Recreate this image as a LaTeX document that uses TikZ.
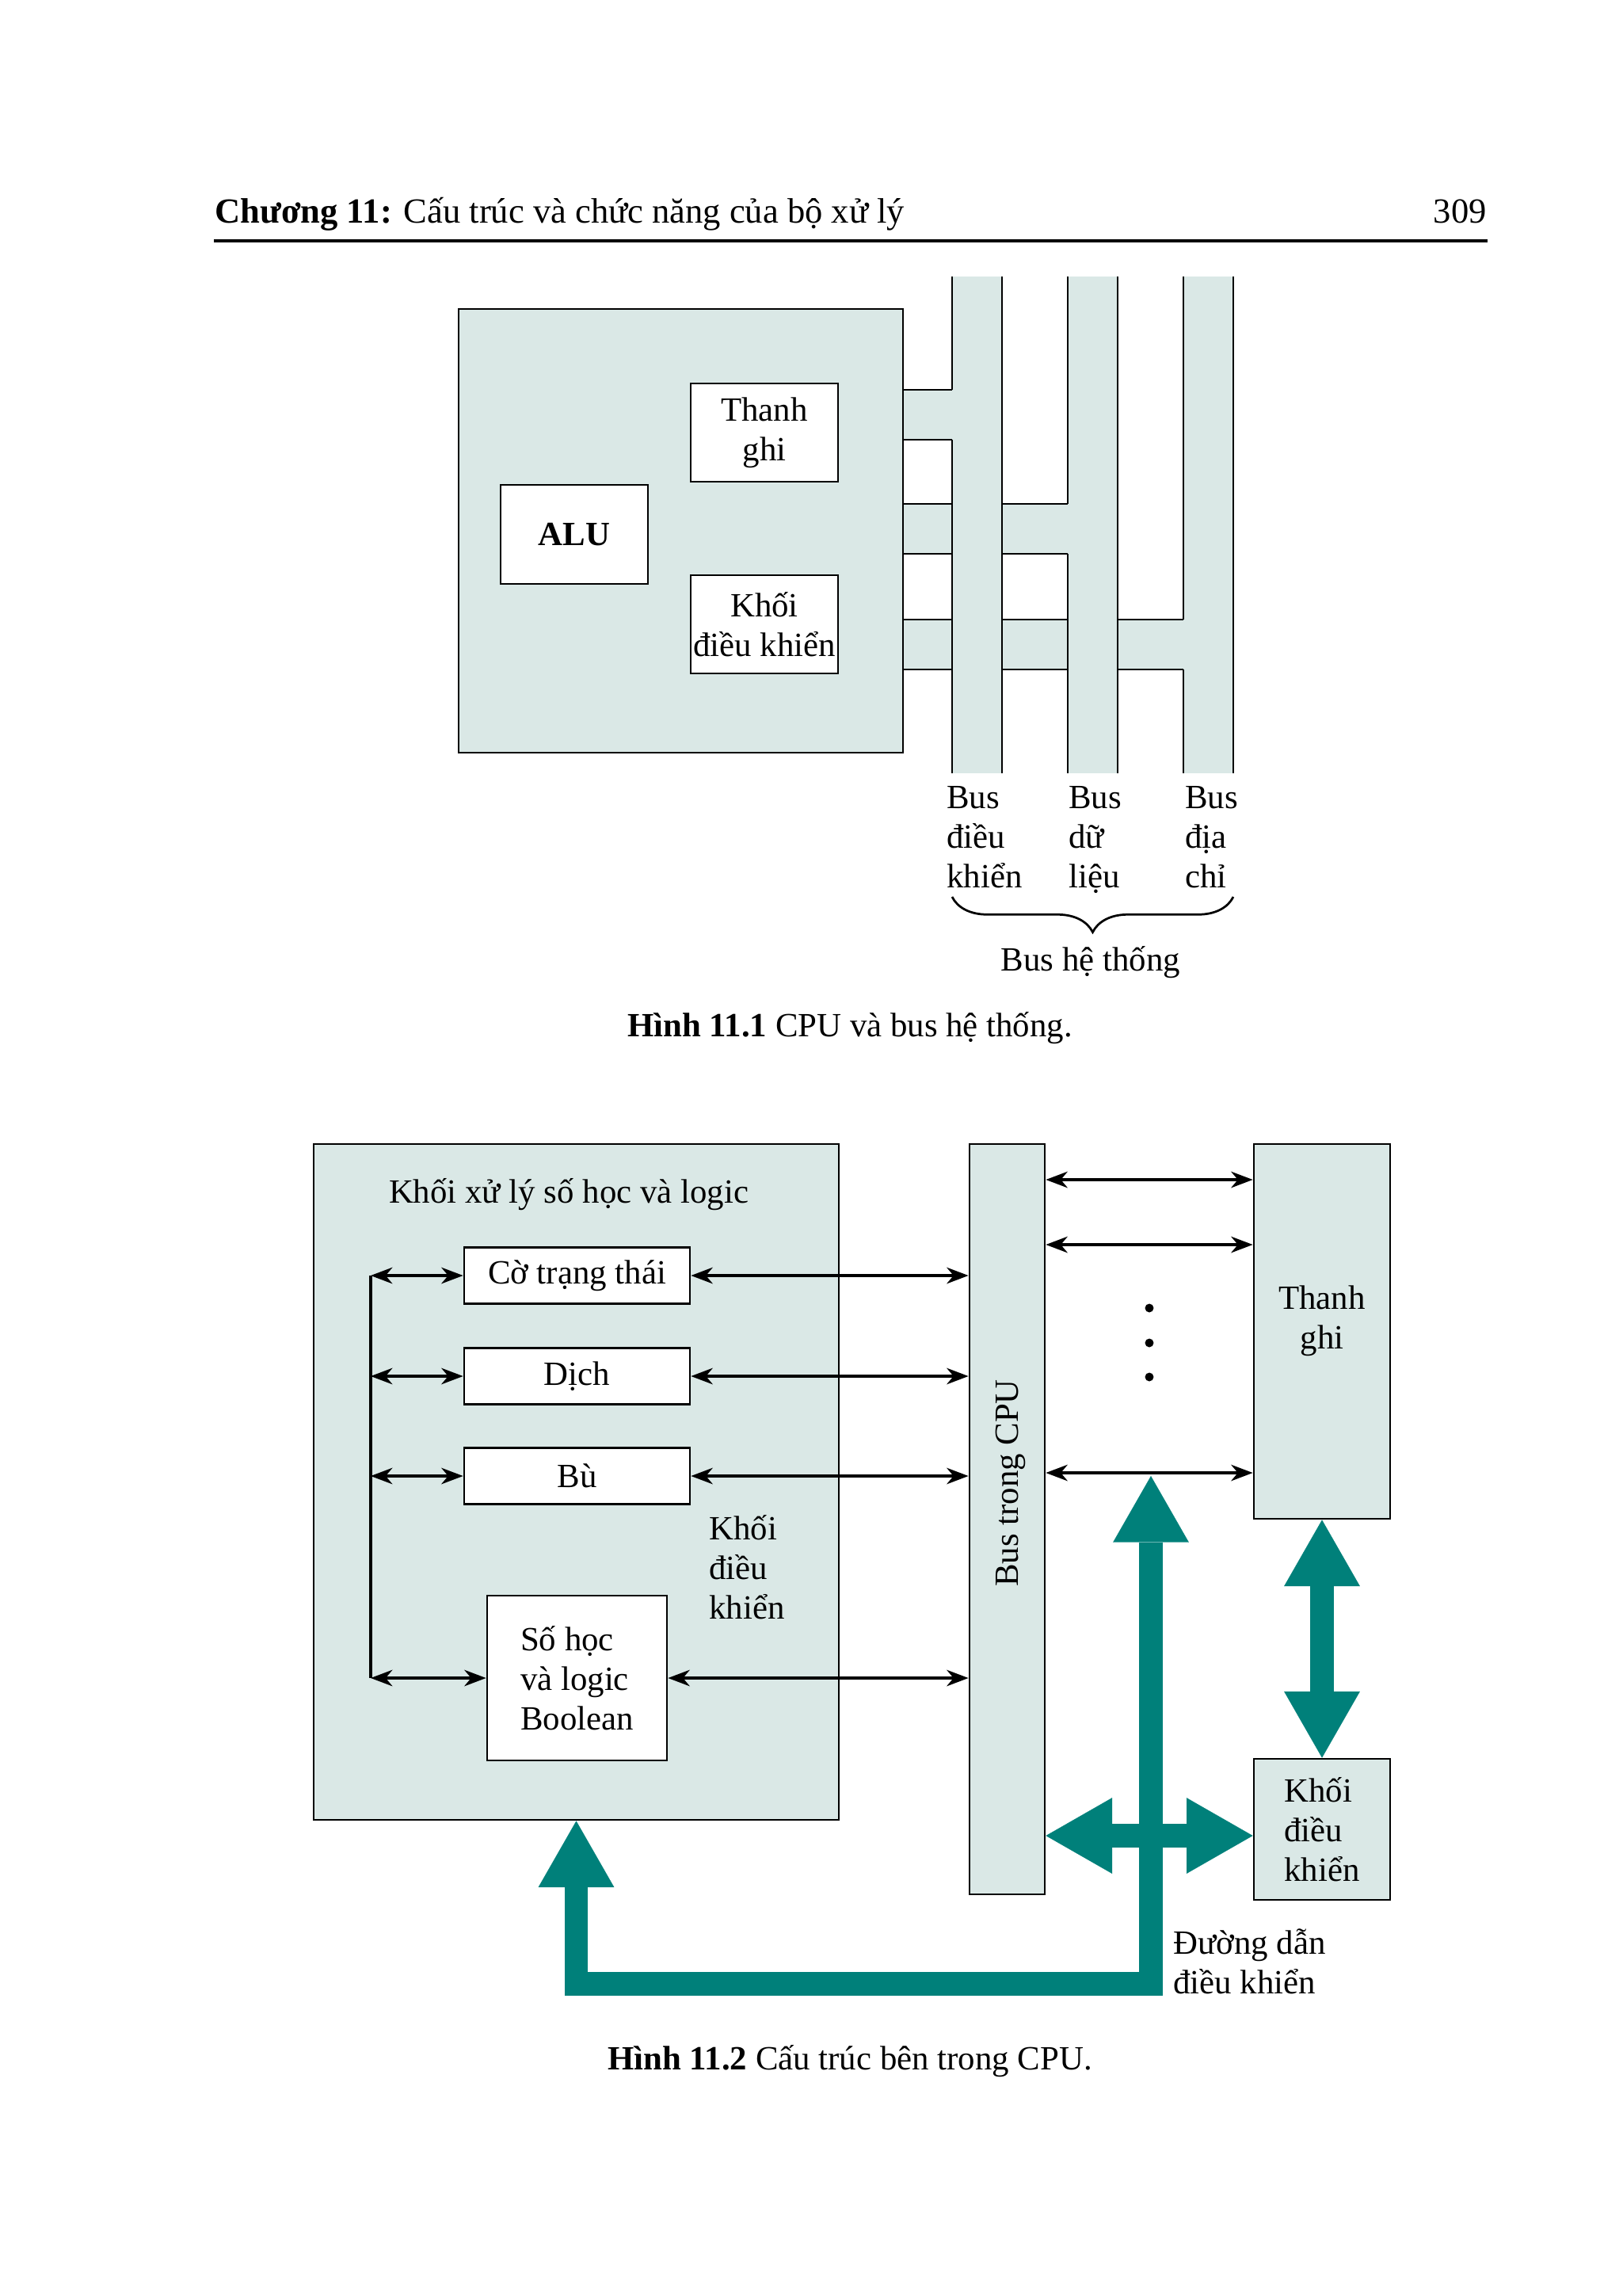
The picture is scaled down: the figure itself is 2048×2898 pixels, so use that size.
\documentclass[tikz,border=0pt]{standalone}
\usepackage{fontspec}
\setmainfont{Liberation Serif}
\usetikzlibrary{arrows.meta,decorations.pathreplacing}

\definecolor{nenxam}{RGB}{218,232,230}
\definecolor{xanhteal}{RGB}{0,128,122}
\newdimen\donvi
\donvi=0.010254cm

\begin{document}
\begin{tikzpicture}[x=0.010254cm, y=-0.010254cm, line width=0.8pt,
    chu/.style={font=\fontsize{12.5}{14.5}\selectfont, inner sep=0pt},
    hop/.style n args={2}{draw, chu, minimum width=#1*\donvi, minimum height=#2*\donvi},
    mui/.style={line width=0.9pt, <->, >={Stealth[length=8pt,width=6pt,inset=2.5pt]}},
    muidam/.style={draw=xanhteal, line width=8.7pt, line join=miter, <->,
        >={Triangle[length=24.4pt,width=27.9pt,line width=0.1pt]}}]
    \useasboundingbox (0,0) rectangle (2048,2898);

    % Đầu trang
    \node[chu, font=\fontsize{13}{15}\selectfont, anchor=base west] (tieude) at (270,281)
        {\textbf{Chương 11:} Cấu trúc và chức năng của bộ xử lý};
    \node[chu, font=\fontsize{13}{15}\selectfont, anchor=base east] (sotrang) at (1878,281) {309};
    \draw[line width=1.2pt] (270,304) -- (1878,304);

    % Hình 11.1: các nhánh nối CPU với bus
    \foreach \x/\y in {1202/492, 1348/636, 1494/782} {
        \fill[nenxam] (1140,\y) rectangle (\x,\y+63);
        \draw (1140,\y) -- (\x,\y) (1140,\y+63) -- (\x,\y+63);
    }
    % Ba đường bus
    \foreach \x/\y in {1202/492, 1348/636, 1494/782} {
        \fill[nenxam] (\x,349) rectangle (\x+63,976);
        \draw (\x,349) -- (\x,\y) (\x,\y+63) -- (\x,976) (\x+63,349) -- (\x+63,976);
    }

    % Khối CPU
    \node[hop={561}{560}, fill=nenxam] (cpu) at (859.5,670) {};
    \node[hop={186}{125}, fill=white] (alu) at (725,674.5) {\textbf{ALU}};
    \node[hop={186}{124}, fill=white, align=center] (thanhghi) at (965,546) {Thanh\\ghi};
    \node[hop={186}{124}, fill=white, align=center] (khoidk) at (965,788) {Khối\\điều khiển};

    % Nhãn bus
    \node[chu, anchor=base west, align=left] (busdk) at (1194,1120) {Bus\\điều\\khiển};
    \node[chu, anchor=base west, align=left] (busdl) at (1348,1120) {Bus\\dữ\\liệu};
    \node[chu, anchor=base west, align=left] (busdc) at (1495,1120) {Bus\\địa\\chỉ};
    \draw[decorate, decoration={brace, mirror, amplitude=13pt}] (1202,1132) -- (1557,1132);
    \node[chu, anchor=base] (busht) at (1377,1225) {Bus hệ thống};
    \node[chu, anchor=base] (hinh1) at (1073,1308) {\textbf{Hình 11.1} CPU và bus hệ thống.};

    % Hình 11.2: khối xử lý số học và logic
    \node[hop={663}{853}, fill=nenxam] (alu2) at (727.5,1870.5) {};
    \node[chu, anchor=base] (tenalu) at (718,1518) {Khối xử lý số học và logic};
    \node[hop={285}{71}, fill=white] (co) at (728.5,1610) {Cờ trạng thái};
    \node[hop={285}{71}, fill=white] (dich) at (728.5,1737) {Dịch};
    \node[hop={285}{71}, fill=white] (bu) at (728.5,1863) {Bù};
    \node[hop={227}{208}, fill=white, align=left] (boolean) at (728.5,2118) {Số học\\và logic\\Boolean};
    \node[chu, anchor=base west, align=left] (khoidk2) at (894,2043) {Khối\\điều\\khiển};

    % Bus trong CPU, thanh ghi, khối điều khiển
    \node[hop={95}{947}, fill=nenxam] (buscpu) at (1271.5,1917.5) {};
    \node[chu, rotate=90] (tenbus) at (1276,1872) {Bus trong CPU};
    \node[hop={172}{473}, fill=nenxam] (thanhghi2) at (1669,1680.5) {};
    \node[chu, anchor=base, align=center] (tenthanhghi) at (1669,1702) {Thanh\\ghi};
    \node[hop={172}{178}, fill=nenxam, align=left] (khoidk3) at (1669,2309) {Khối\\điều\\khiển};
    \node[chu, anchor=base west, align=left] (duongdan) at (1480,2516) {Đường dẫn\\điều khiển};

    % Mũi tên mảnh
    \coordinate (trai) at (468,0);
    \draw[line width=0.9pt] (trai |- co.west) -- (trai |- boolean.west);
    \foreach \n in {co,dich,bu,boolean} {
        \draw[mui] (trai |- \n.west) -- (\n.west);
        \draw[mui] (\n.east) -- (buscpu.west |- \n.east);
    }
    \foreach \y in {1489,1571,1859}
        \draw[mui] (buscpu.east |- 0,\y) -- (thanhghi2.west |- 0,\y);
    \foreach \y in {1651,1695,1738}
        \fill (1451,\y) circle[radius=1.6pt];

    % Mũi tên đậm
    \coordinate (dinh) at (1453,1863);
    \coordinate (goc) at (1453,2504);
    \draw[muidam] (dinh) -- (goc) -- (alu2.south |- goc) -- (alu2.south);
    \draw[muidam] (buscpu.east |- 0,2317) -- (khoidk3.west |- 0,2317);
    \draw[muidam] (thanhghi2.south) -- (khoidk3.north);

    \node[chu, anchor=base] (hinh2) at (1073,2612) {\textbf{Hình 11.2} Cấu trúc bên trong CPU.};
\end{tikzpicture}
\end{document}
